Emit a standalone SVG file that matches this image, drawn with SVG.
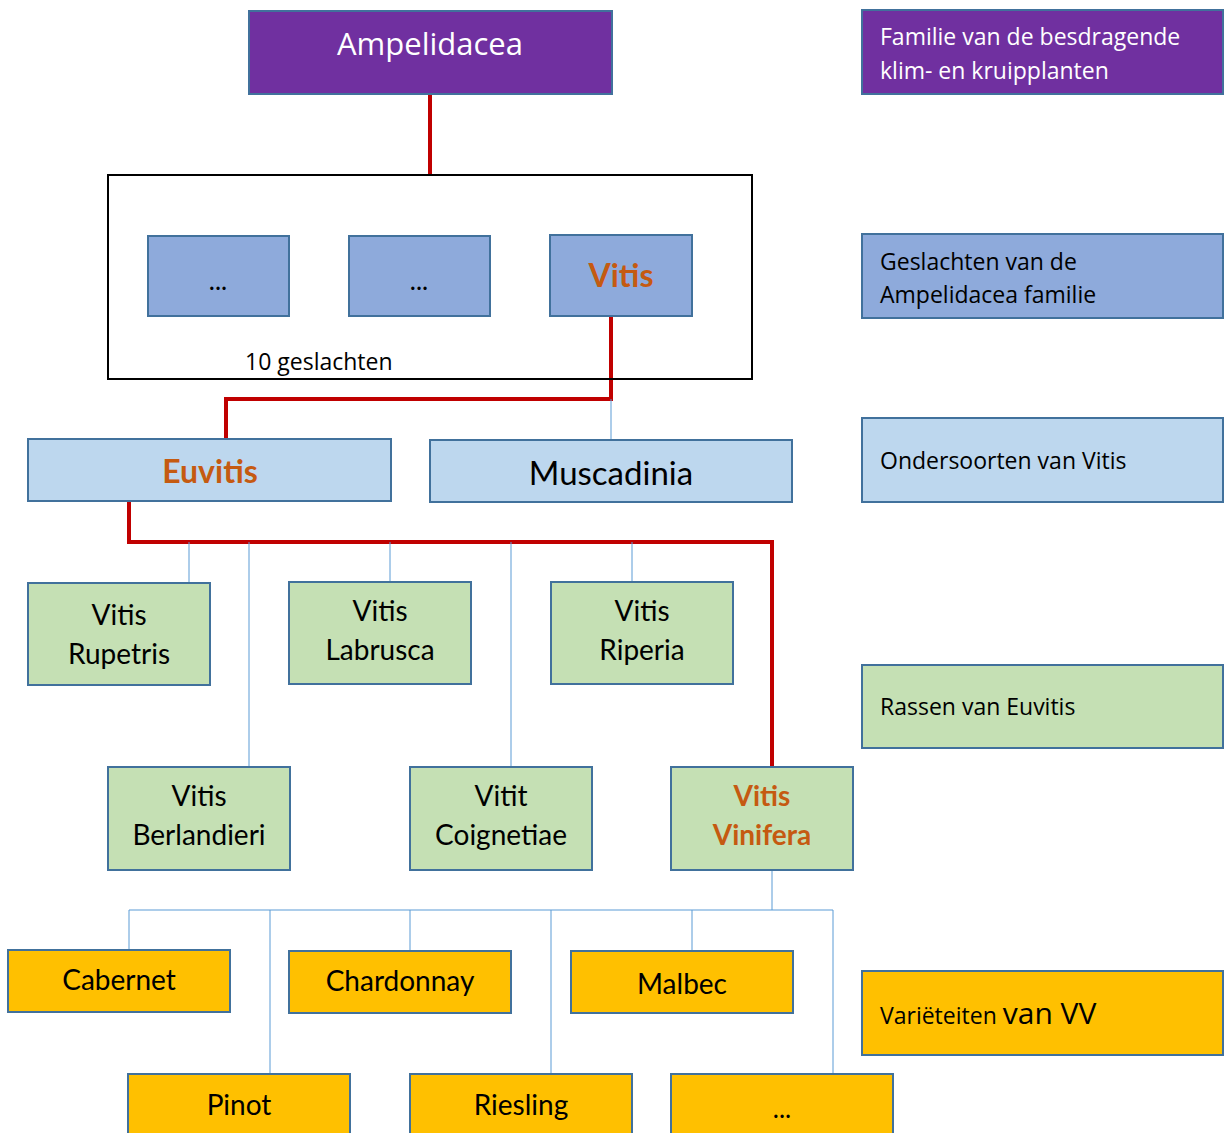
<svg xmlns="http://www.w3.org/2000/svg" width="1225" height="1133" viewBox="0 0 1225 1133">
<style>
text{font-family:Lato,"Open Sans","Liberation Sans",sans-serif;fill:#000}
.os{font-family:"Open Sans",Lato,"Liberation Sans",sans-serif}
.b{stroke:#41719C;stroke-width:2}
.pu{fill:#7030A0}.bl{fill:#8EAADB}.lb{fill:#BDD7EE}.gr{fill:#C5E0B4}.or{fill:#FFC000}
.red{fill:none;stroke:#C00000;stroke-width:4}
.thin{fill:none;stroke:#5B9BD5;stroke-width:1}
.c{text-anchor:middle}
.big{font-size:32px}
.mid{font-size:28px}
.leg{font-size:23px}
.hl{fill:#C55A11;font-weight:bold}
</style>
<g id="connectors">
<path class="red" d="M430,94V175"/>
<path class="red" d="M611,316V399H226V439"/>
<path class="thin" d="M611,399V440"/>
<path class="red" d="M129,501V542H772V767"/>
<path class="thin" d="M189,542V583M249,542V767M390,542V582M511,542V767M632,542V582"/>
<path class="thin" d="M772,870V910M129,910H833M129,910V950M270,910V1074M410,910V951M551,910V1074M692,910V951M833,910V1074"/>
</g>
<g id="n-ampelidacea"><rect class="pu b" x="249" y="11" width="363" height="83"/><text class="c os" x="430" y="55" font-size="31" style="fill:#fff">Ampelidacea</text></g>
<g id="n-geslachten"><rect x="108" y="175" width="644" height="204" fill="none" stroke="#000" stroke-width="2"/><text class="os" x="245" y="370" font-size="23">10 geslachten</text></g>
<g id="n-g1"><rect class="bl b" x="148" y="236" width="141" height="80"/><text class="c" x="218" y="290" font-size="26">...</text></g>
<g id="n-g2"><rect class="bl b" x="349" y="236" width="141" height="80"/><text class="c" x="419" y="290" font-size="26">...</text></g>
<g id="n-vitis"><rect class="bl b" x="550" y="235" width="142" height="81"/><text class="c big hl" x="621" y="287">Vitis</text></g>
<g id="n-euvitis"><rect class="lb b" x="28" y="439" width="363" height="62"/><text class="c big hl" x="210" y="483">Euvitis</text></g>
<g id="n-muscadinia"><rect class="lb b" x="430" y="440" width="362" height="62"/><text class="c" x="611" y="485" font-size="33">Muscadinia</text></g>
<g id="n-rupetris"><rect class="gr b" x="28" y="583" width="182" height="102"/><text class="c mid" x="119" y="625">Vitis</text><text class="c mid" x="119" y="664">Rupetris</text></g>
<g id="n-labrusca"><rect class="gr b" x="289" y="582" width="182" height="102"/><text class="c mid" x="380" y="621">Vitis</text><text class="c mid" x="380" y="660">Labrusca</text></g>
<g id="n-riperia"><rect class="gr b" x="551" y="582" width="182" height="102"/><text class="c mid" x="642" y="621">Vitis</text><text class="c mid" x="642" y="660">Riperia</text></g>
<g id="n-berlandieri"><rect class="gr b" x="108" y="767" width="182" height="103"/><text class="c mid" x="199" y="806">Vitis</text><text class="c mid" x="199" y="845">Berlandieri</text></g>
<g id="n-coignetiae"><rect class="gr b" x="410" y="767" width="182" height="103"/><text class="c mid" x="501" y="806">Vitit</text><text class="c mid" x="501" y="845">Coignetiae</text></g>
<g id="n-vinifera"><rect class="gr b" x="671" y="767" width="182" height="103"/><text class="c mid hl" x="762" y="806">Vitis</text><text class="c mid hl" x="762" y="845">Vinifera</text></g>
<g id="n-cabernet"><rect class="or b" x="8" y="950" width="222" height="62"/><text class="c mid" x="119" y="990">Cabernet</text></g>
<g id="n-chardonnay"><rect class="or b" x="289" y="951" width="222" height="62"/><text class="c mid" x="400" y="991">Chardonnay</text></g>
<g id="n-malbec"><rect class="or b" x="571" y="951" width="222" height="62"/><text class="c mid" x="682" y="994">Malbec</text></g>
<g id="n-pinot"><rect class="or b" x="128" y="1074" width="222" height="70"/><text class="c mid" x="239" y="1115">Pinot</text></g>
<g id="n-riesling"><rect class="or b" x="410" y="1074" width="222" height="70"/><text class="c mid" x="521" y="1115">Riesling</text></g>
<g id="n-more"><rect class="or b" x="671" y="1074" width="222" height="70"/><text class="c" x="782" y="1118" font-size="26">...</text></g>
<g id="legend-familie"><rect class="pu b" x="862" y="10" width="361" height="84"/><text class="leg os" x="880" y="45" style="fill:#fff">Familie van de besdragende</text><text class="leg os" x="880" y="79" style="fill:#fff">klim- en kruipplanten</text></g>
<g id="legend-geslachten"><rect class="bl b" x="862" y="234" width="361" height="84"/><text class="leg os" x="880" y="270">Geslachten van de</text><text class="leg os" x="880" y="303">Ampelidacea familie</text></g>
<g id="legend-ondersoorten"><rect class="lb b" x="862" y="418" width="361" height="84"/><text class="leg os" x="880" y="469">Ondersoorten van Vitis</text></g>
<g id="legend-rassen"><rect class="gr b" x="862" y="665" width="361" height="83"/><text class="leg os" x="880" y="715">Rassen van Euvitis</text></g>
<g id="legend-varieteiten"><rect class="or b" x="862" y="971" width="361" height="84"/><text class="leg os" x="880" y="1024">Variëteiten <tspan font-size="30">van VV</tspan></text></g>
</svg>
